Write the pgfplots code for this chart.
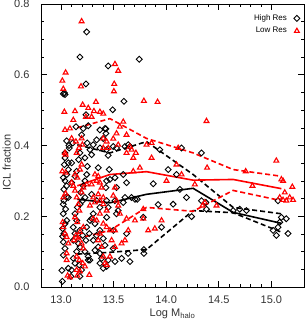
\documentclass[border=0pt]{standalone}
\usepackage{pgfplots}
\pgfplotsset{compat=1.18}
\usepackage{fontspec}
\setmainfont{Liberation Sans}
\definecolor{idlred}{RGB}{255,0,0}
\begin{document}
\begin{tikzpicture}
\useasboundingbox (-41pt,-36pt) rectangle (264pt,287pt);
\begin{axis}[
  scale only axis,
  width=263pt, height=283pt,
  xmin=12.81, xmax=15.31, ymin=0, ymax=0.8,
  xtick={13,13.5,14,14.5,15},
  minor x tick num=4,
  ytick={0,0.2,0.4,0.6,0.8},
  minor y tick num=3,
  tick align=inside,
  major tick length=6pt, minor tick length=3pt,
  tick style={black, line width=0.6pt},
  axis line style={line width=0.8pt},
  xticklabel pos=lower, yticklabel pos=left,
  xtick pos=both, ytick pos=both,
  /pgf/number format/.cd, fixed, zerofill, precision=1, assume math mode=true,
  /pgfplots/.cd,
  ticklabel style={font=\fontsize{11}{12}\selectfont, text=black!80},
  yticklabel style={xshift=-8pt},
  xticklabel style={yshift=-5pt},
  xlabel={Log M\textsubscript{halo}},
  ylabel={ICL fraction},
  label style={font=\fontsize{11}{12}\selectfont, text=black!80},
  ylabel style={at={(axis description cs:-0.13,0.44)}, anchor=center},
  xlabel style={yshift=1pt},
  legend style={at={(0.985,0.97)}, anchor=north east, draw=none, fill=none,
    font=\fontsize{8}{9}\selectfont, row sep=1.5pt, inner sep=0pt},
  legend plot pos=right,
  legend cell align=right,
]
\addplot[only marks, mark=square, mark size=2.1pt, mark options={rotate=45, line width=0.9pt, black}] coordinates {
(13.244,0.721)(13.180,0.650)(13.744,0.644)(13.449,0.625)(13.237,0.574)(13.032,0.549)(13.038,0.544)(13.022,0.546)
(13.598,0.525)(13.491,0.501)(13.237,0.487)(13.142,0.453)(13.259,0.456)(13.427,0.447)(13.054,0.413)(13.076,0.400)
(13.111,0.407)(13.196,0.430)(13.212,0.448)(13.101,0.351)(13.101,0.295)(13.149,0.327)(13.133,0.313)(13.180,0.379)
(13.168,0.360)(13.013,0.016)(13.009,0.047)(13.095,0.030)(13.070,0.053)(13.022,0.090)(13.038,0.109)(13.022,0.127)
(13.016,0.143)(13.028,0.151)(13.016,0.165)(13.038,0.179)(13.054,0.188)(13.022,0.207)(13.044,0.220)(13.022,0.234)
(13.028,0.244)(13.054,0.255)(13.070,0.253)(13.028,0.276)(13.054,0.286)(13.038,0.300)(13.022,0.309)(13.054,0.318)
(13.070,0.332)(13.032,0.346)(13.070,0.351)(13.038,0.365)(13.038,0.379)(13.079,0.393)(13.133,0.207)(13.149,0.188)
(13.117,0.169)(13.133,0.151)(13.117,0.132)(13.165,0.123)(13.180,0.113)(13.149,0.100)(13.117,0.081)(13.133,0.067)
(13.174,0.062)(13.196,0.048)(13.101,0.048)(13.180,0.030)(13.180,0.160)(13.206,0.146)(13.155,0.225)(13.180,0.234)
(13.206,0.244)(13.228,0.253)(13.187,0.267)(13.212,0.286)(13.228,0.300)(13.244,0.318)(13.250,0.341)(13.228,0.365)
(13.250,0.407)(13.275,0.388)(13.259,0.076)(13.259,0.086)(13.228,0.100)(13.237,0.132)(13.269,0.151)(13.244,0.169)
(13.275,0.188)(13.291,0.374)(13.307,0.402)(13.339,0.416)(13.370,0.444)(13.402,0.420)(13.418,0.448)(13.427,0.434)
(13.370,0.393)(13.354,0.337)(13.291,0.262)(13.339,0.244)(13.370,0.225)(13.307,0.207)(13.291,0.193)(13.323,0.179)
(13.370,0.160)(13.339,0.146)(13.307,0.132)(13.402,0.137)(13.418,0.118)(13.354,0.113)(13.323,0.104)(13.370,0.095)
(13.386,0.081)(13.370,0.067)(13.402,0.053)(13.434,0.058)(13.449,0.076)(13.275,0.076)(13.434,0.197)(13.449,0.225)
(13.434,0.244)(13.427,0.281)(13.434,0.300)(13.465,0.304)(13.459,0.332)(13.449,0.372)(13.434,0.388)(13.497,0.397)
(13.528,0.393)(13.513,0.309)(13.528,0.281)(13.544,0.216)(13.513,0.244)(13.497,0.160)(13.497,0.109)(13.513,0.072)
(13.528,0.207)(13.592,0.318)(13.608,0.397)(13.639,0.402)(13.623,0.295)(13.592,0.239)(13.608,0.253)(13.576,0.081)
(13.623,0.151)(13.639,0.095)(13.655,0.072)(13.671,0.253)(13.703,0.248)(13.655,0.397)(13.725,0.248)(13.782,0.197)
(13.788,0.106)(13.788,0.095)(13.877,0.292)(13.924,0.233)(13.956,0.169)(13.940,0.388)(14.019,0.332)(14.098,0.318)
(14.066,0.234)(14.146,0.393)(14.130,0.276)(14.193,0.253)(14.241,0.199)(14.335,0.379)(14.335,0.244)(14.377,0.239)
(14.383,0.220)(14.636,0.216)(14.699,0.220)(14.763,0.216)(15.016,0.160)(15.047,0.146)(15.063,0.169)(15.079,0.183)
(15.095,0.197)(15.142,0.193)(15.158,0.151)(15.063,0.244)
};
\addlegendentry{High Res\rule{5pt}{0pt}}
\addplot[only marks, mark=triangle, mark size=2.8pt, mark options={line width=1.1pt, idlred}] coordinates {
(13.196,0.751)(13.190,0.567)(13.206,0.515)(13.133,0.497)(13.117,0.472)(13.085,0.448)(13.101,0.420)(13.142,0.411)
(13.196,0.420)(13.203,0.402)(13.171,0.393)(13.149,0.379)(13.133,0.318)(13.155,0.309)(13.180,0.332)(13.196,0.346)
(13.237,0.481)(13.259,0.506)(13.101,0.295)(13.117,0.286)(13.133,0.272)(13.149,0.253)(13.196,0.267)(13.212,0.281)
(13.244,0.290)(13.165,0.234)(13.174,0.216)(13.133,0.197)(13.155,0.183)(13.212,0.169)(13.180,0.155)(13.142,0.146)
(13.123,0.132)(13.165,0.137)(13.196,0.123)(13.212,0.109)(13.149,0.086)(13.174,0.076)(13.206,0.067)(13.228,0.058)
(13.149,0.048)(13.180,0.044)(13.155,0.032)(13.269,0.034)(13.013,0.583)(13.022,0.560)(13.044,0.606)(13.032,0.495)
(13.038,0.444)(13.038,0.379)(13.044,0.374)(13.013,0.327)(13.044,0.323)(13.022,0.253)(13.044,0.264)(13.016,0.183)
(13.022,0.169)(13.038,0.151)(13.054,0.141)(13.070,0.123)(13.054,0.095)(13.054,0.076)(13.063,0.032)(13.085,0.027)
(13.332,0.523)(13.313,0.497)(13.370,0.495)(13.402,0.490)(13.291,0.481)(13.323,0.318)(13.354,0.313)(13.339,0.300)
(13.291,0.290)(13.370,0.295)(13.386,0.281)(13.307,0.253)(13.354,0.262)(13.402,0.253)(13.275,0.230)(13.323,0.239)
(13.370,0.244)(13.402,0.234)(13.434,0.216)(13.370,0.207)(13.307,0.193)(13.339,0.188)(13.402,0.179)(13.434,0.169)
(13.465,0.160)(13.370,0.151)(13.354,0.132)(13.386,0.113)(13.434,0.062)(13.402,0.086)(13.402,0.420)(13.434,0.411)
(13.449,0.393)(13.402,0.393)(13.513,0.630)(13.544,0.611)(13.506,0.574)(13.503,0.553)(13.788,0.526)(13.918,0.523)
(13.592,0.467)(13.560,0.453)(13.528,0.434)(13.497,0.419)(13.623,0.430)(13.655,0.397)(13.671,0.388)(13.623,0.379)
(13.544,0.402)(13.687,0.365)(13.712,0.379)(13.750,0.337)(13.687,0.327)(13.513,0.281)(13.497,0.258)(13.528,0.244)
(13.544,0.230)(13.560,0.207)(13.623,0.193)(13.703,0.188)(13.782,0.193)(13.513,0.160)(13.481,0.132)(13.513,0.113)
(13.608,0.132)(13.576,0.123)(13.465,0.086)(13.418,0.067)(13.639,0.160)(13.782,0.220)(13.861,0.365)(13.829,0.160)
(13.892,0.165)(13.813,0.402)(13.861,0.407)(13.956,0.188)(14.003,0.300)(14.098,0.346)(14.114,0.393)(14.146,0.318)
(14.272,0.290)(14.345,0.230)(14.367,0.239)(14.383,0.469)(14.389,0.337)(14.478,0.230)(14.756,0.327)(14.820,0.286)
(15.047,0.357)(15.095,0.304)(15.111,0.300)(15.079,0.253)(15.127,0.267)(15.142,0.244)(15.174,0.253)(15.199,0.283)
(15.206,0.246)(15.111,0.246)
};
\addlegendentry{Low Res\rule{5pt}{0pt}}
% black lines
\addplot[forget plot, black, line width=1.6pt] coordinates {(13.155,0.248)(13.465,0.238)(13.813,0.262)(14.256,0.279)(14.636,0.211)(15.095,0.180)};
\addplot[forget plot, black, line width=1.6pt, dash pattern=on 5pt off 3pt] coordinates {(13.155,0.402)(13.465,0.379)(13.813,0.411)(14.256,0.318)(14.636,0.225)(15.095,0.207)};
\addplot[forget plot, black, line width=1.6pt, dash pattern=on 5pt off 3pt] coordinates {(13.155,0.093)(13.465,0.098)(13.813,0.106)(14.256,0.216)(14.636,0.210)(15.095,0.155)};
% red lines
\addplot[forget plot, idlred, line width=1.6pt] coordinates {(13.155,0.286)(13.465,0.318)(13.813,0.326)(14.256,0.302)(14.636,0.304)(15.095,0.278)};
\addplot[forget plot, idlred, line width=1.6pt, dash pattern=on 5pt off 3pt] coordinates {(13.155,0.450)(13.465,0.476)(13.813,0.420)(14.256,0.379)(14.636,0.332)(15.095,0.313)};
\addplot[forget plot, idlred, line width=1.6pt, dash pattern=on 5pt off 3pt] coordinates {(13.155,0.137)(13.465,0.160)(13.813,0.225)(14.256,0.214)(14.636,0.273)(15.095,0.244)};
\end{axis}
\end{tikzpicture}
\end{document}
